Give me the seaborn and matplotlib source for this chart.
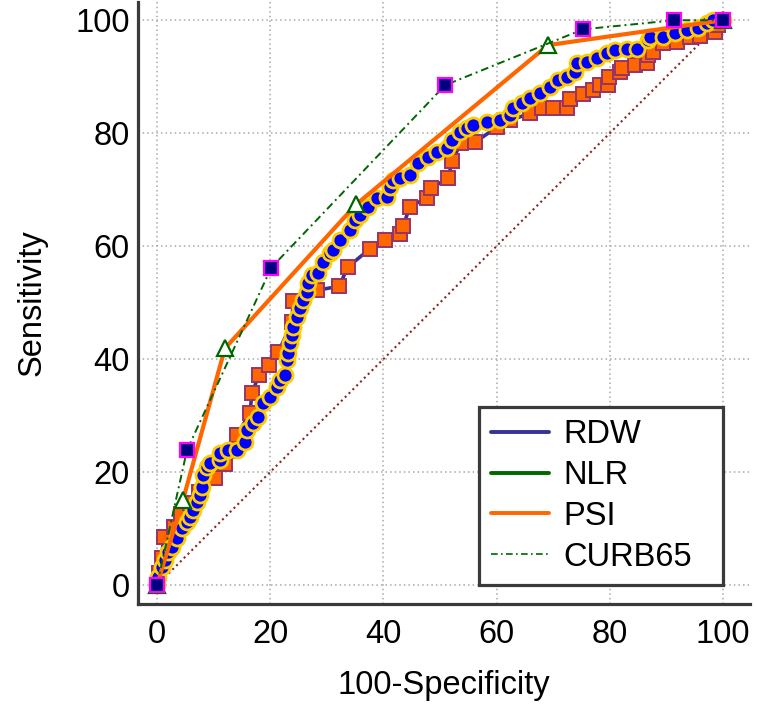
import matplotlib
matplotlib.use("Agg")
import matplotlib.pyplot as plt
from matplotlib.lines import Line2D
from matplotlib.ticker import MultipleLocator
import seaborn as sns

# ---------------- data ----------------
series_names = ["RDW", "NLR", "PSI", "CURB65"]

rdw_x = [0, 0.3, 0.8, 1.2, 3.0, 4.3, 5.8, 7.5, 10.2, 12.0, 13.2, 14.1, 16.4, 16.8, 18.0,
         19.8, 21.4, 23.9, 24.0, 28.3, 32.2, 33.7, 37.6, 40.3, 43.0, 43.5, 44.7, 47.8,
         48.5, 51.4, 52.2, 53.7, 56.2, 60.1, 62.4, 65.9, 68.0, 70.0, 72.4, 73.0, 75.3,
         77.0, 78.3, 79.7, 79.9, 81.8, 82.2, 84.5, 86.6, 86.7, 87.6, 89.4, 91.9, 94.2,
         95.9, 98.6, 99.1, 100]
rdw_y = [0, 2.2, 4.8, 8.5, 10.2, 12.5, 14.5, 16.5, 18.9, 21.5, 23.8, 26.5, 30.4, 34.0, 37.2,
         38.9, 41.2, 46.5, 50.3, 52.2, 52.9, 56.3, 59.5, 61.1, 62.1, 63.6, 67.0, 68.6,
         70.3, 72.0, 75.1, 78.3, 78.4, 81.1, 82.3, 83.5, 84.4, 84.4, 84.4, 86.0, 86.9,
         87.6, 88.5, 88.5, 89.9, 90.8, 91.5, 92.0, 92.4, 93.8, 94.3, 95.9, 96.1, 97.0,
         97.3, 97.9, 99.1, 100]

nlr_x = [0, 0.2, 0.9, 1.4, 2.0, 2.6, 3.5, 4.4, 5.3, 5.8, 6.4, 7.1, 7.6, 7.9, 8.1, 8.8, 9.4,
         11.1, 11.1, 12.5, 14.1, 15.5, 15.9, 17.0, 17.8, 18.7, 20.0, 21.2, 21.7, 22.6, 23.0,
         23.1, 23.5, 23.9, 24.0, 24.7, 25.3, 25.8, 26.5, 26.7, 27.4, 28.4, 29.3, 30.6, 31.1,
         32.3, 34.1, 35.0, 35.9, 37.3, 38.9, 40.6, 41.2, 41.7, 42.9, 44.7, 46.1, 47.9, 49.5,
         51.2, 52.1, 53.5, 54.8, 55.8, 58.3, 60.6, 62.4, 62.9, 64.5, 65.9, 67.7, 69.4, 70.8,
         72.4, 73.9, 74.2, 76.0, 77.7, 79.5, 80.9, 83.0, 84.8, 86.7, 87.1, 89.4, 91.5, 93.6,
         95.6, 97.2, 98.2, 100]
nlr_y = [0, 1.4, 3.2, 4.4, 5.8, 6.7, 8.3, 10.1, 11.2, 12.0, 13.3, 14.7, 15.9, 17.3, 19.5,
         20.9, 21.6, 22.1, 23.4, 23.9, 23.9, 25.3, 27.4, 28.7, 29.7, 32.2, 33.3, 35.0, 36.3,
         37.2, 39.8, 41.0, 42.8, 44.2, 45.7, 47.4, 49.0, 50.4, 51.9, 53.5, 54.9, 55.2, 57.2,
         58.8, 59.3, 61.1, 62.8, 64.6, 65.5, 66.9, 68.5, 68.7, 70.4, 71.7, 72.0, 72.6, 74.7,
         75.8, 76.6, 77.3, 78.8, 80.2, 80.9, 81.4, 82.0, 82.3, 83.2, 84.4, 85.3, 86.2, 87.1,
         88.1, 89.4, 89.9, 90.8, 92.4, 92.6, 93.3, 94.2, 94.7, 95.0, 95.0, 96.5, 97.0, 97.0,
         97.7, 98.2, 98.6, 99.5, 100, 100]

psi_x = [0, 4.6, 12.0, 35.2, 69.1, 100]
psi_y = [0, 15.1, 41.9, 67.4, 95.6, 100]

curb_x = [0, 5.3, 20.2, 50.9, 75.3, 91.4, 100]
curb_y = [0, 23.9, 56.2, 88.5, 98.4, 100, 100]

ref_x = [0, 100]
ref_y = [0, 100]

x_ticks = [0, 20, 40, 60, 80, 100]
y_ticks = [0, 20, 40, 60, 80, 100]
x_label = "100-Specificity"
y_label = "Sensitivity"

# ---------------- styling ----------------
sns.set_style("white")
plt.rcParams["font.family"] = ["Liberation Sans", "DejaVu Sans"]

NAVY = "#333399"
GREEN = "#006600"
ORANGE = "#FF6600"
FS = 23.5

fig = plt.figure(figsize=(7.57, 7.08), dpi=100)
ax = fig.add_axes([0.1823, 0.1469, 0.8085, 0.850])

ax.set_xlim(-3.36, 104.8)
ax.set_ylim(-3.36, 103.2)

ax.xaxis.set_major_locator(MultipleLocator(20))
ax.yaxis.set_major_locator(MultipleLocator(20))
ax.xaxis.set_minor_locator(MultipleLocator(5))
ax.yaxis.set_minor_locator(MultipleLocator(5))
ax.set_xticks(x_ticks)
ax.set_yticks(y_ticks)
ax.grid(True, which="major", color="#a8a8a8", linestyle=(0, (1, 2)), linewidth=1.1)
ax.set_axisbelow(True)

# reference diagonal
sns.lineplot(x=ref_x, y=ref_y, ax=ax, sort=False, estimator=None, color="#8b2323",
             linewidth=1.5, linestyle=(0, (1, 1.6)))

# RDW (orange squares, navy line)
sns.lineplot(x=rdw_x, y=rdw_y, ax=ax, sort=False, estimator=None, color=NAVY,
             linewidth=2.6, marker="s", markersize=9.8, markerfacecolor=ORANGE,
             markeredgecolor="#993366", markeredgewidth=1.4)

# NLR (blue circles with gold edge)
sns.lineplot(x=nlr_x, y=nlr_y, ax=ax, sort=False, estimator=None, color=GREEN,
             linewidth=2.6, marker="o", markersize=10.8, markerfacecolor="#0000FF",
             markeredgecolor="#FFCC00", markeredgewidth=2.0)

# PSI (orange line, hollow green triangles)
sns.lineplot(x=psi_x, y=psi_y, ax=ax, sort=False, estimator=None, color=ORANGE,
             linewidth=3.0, marker="^", markersize=11.5, markerfacecolor="white",
             markeredgecolor=GREEN, markeredgewidth=1.6)

# CURB65 (green dash-dot, navy squares with magenta edge)
sns.lineplot(x=curb_x, y=curb_y, ax=ax, sort=False, estimator=None, color=GREEN,
             linewidth=1.4, linestyle=(0, (4, 2, 1, 2)), marker="s", markersize=9.5,
             markerfacecolor="#000080", markeredgecolor="#FF00FF", markeredgewidth=1.6)

# axes styling
for side in ["top", "right"]:
    ax.spines[side].set_visible(False)
for side in ["left", "bottom"]:
    ax.spines[side].set_color("#3a3a3a")
    ax.spines[side].set_linewidth(2.3)

ax.tick_params(which="major", direction="in", length=12.5, width=2.2, color="#3a3a3a",
               labelsize=FS, labelcolor="black")
ax.tick_params(which="minor", direction="in", length=7, width=1.6, color="#3a3a3a")
ax.tick_params(axis="x", which="major", pad=11)
ax.tick_params(axis="y", which="major", pad=6)

ax.set_xlabel(x_label, fontsize=FS, labelpad=14, color="black")
ax.set_ylabel(y_label, fontsize=FS, labelpad=20, color="black")

# legend
handles = [
    Line2D([], [], color=NAVY, linewidth=2.8),
    Line2D([], [], color=GREEN, linewidth=2.8),
    Line2D([], [], color=ORANGE, linewidth=2.8),
    Line2D([], [], color=GREEN, linewidth=1.2, linestyle=(0, (4, 2, 1, 2))),
]
leg = ax.legend(handles, series_names, loc="lower left",
                bbox_to_anchor=(56.9, 0, 43.1, 32.2), bbox_transform=ax.transData,
                mode="expand", borderaxespad=0, fontsize=FS, frameon=True,
                fancybox=False, framealpha=1, edgecolor="#3a3a3a",
                handlelength=1.75, handletextpad=0.45, labelspacing=0.3,
                borderpad=0.38)
leg.get_frame().set_linewidth(2.3)
for t in leg.get_texts():
    t.set_color("black")

fig.savefig("out.png", dpi=100)
